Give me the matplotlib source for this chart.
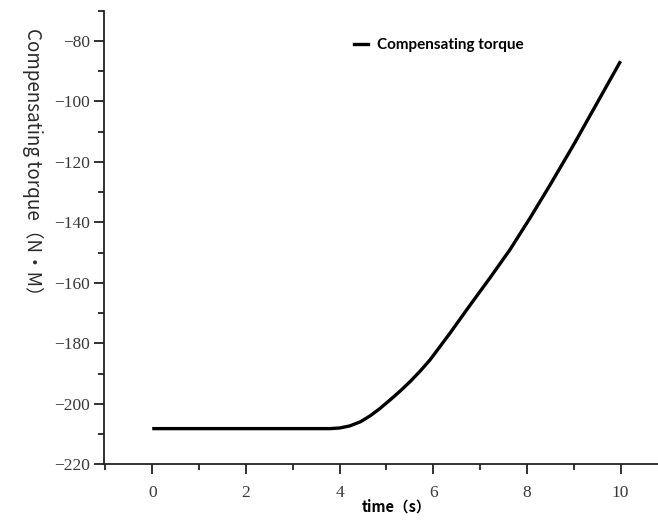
import matplotlib
matplotlib.use("Agg")
import matplotlib.pyplot as plt
from matplotlib.ticker import MultipleLocator
from matplotlib.lines import Line2D

time_s = [0, 1, 2, 3, 3.8, 4.0, 4.22, 4.45, 4.65, 4.85, 5.08, 5.3, 5.51, 5.72, 5.93,
          6.36, 6.79, 7.21, 7.64, 8.07, 8.5, 9.0, 9.5, 10.0]
torque = [-208.2, -208.2, -208.2, -208.2, -208.2, -208.0, -207.3, -205.9, -204.0,
          -201.7, -198.7, -195.7, -192.6, -189.2, -185.5, -176.6, -167.3, -158.4,
          -149.0, -138.5, -127.5, -114.3, -100.5, -86.7]

x_ticks = [0, 2, 4, 6, 8, 10]
y_ticks = [-220, -200, -180, -160, -140, -120, -100, -80]
legend_label = "Compensating torque"
x_label = "time（s）"
y_label = "Compensating torque（N·M）"

plt.rcParams["font.family"] = ["Liberation Serif", "DejaVu Sans"]

fig = plt.figure(figsize=(6.58, 5.25), dpi=100)
ax = fig.add_axes([104/658, 1 - 464.3/525, 1 - 104/658, (464.3 - 10.7)/525])

ax.plot(time_s, torque, color="black", lw=2.4, solid_capstyle="butt",
        solid_joinstyle="round")

ax.set_xlim(-1.03, 10.8)
ax.set_ylim(-220, -70)
ax.set_xticks(x_ticks)
ax.set_yticks(y_ticks)
ax.xaxis.set_minor_locator(MultipleLocator(1))
ax.yaxis.set_minor_locator(MultipleLocator(10))
ax.spines["top"].set_visible(False)
ax.spines["right"].set_visible(False)
for s in ("left", "bottom"):
    ax.spines[s].set_linewidth(1.3)
    ax.spines[s].set_color("#222222")
ax.tick_params(which="major", direction="out", length=7, width=1.3, colors="#222222",
               labelsize=12.5, labelcolor="#3a3a3a")
ax.tick_params(which="minor", direction="out", length=4, width=1.3, colors="#222222")
ax.tick_params(axis="x", pad=8)
ax.tick_params(axis="y", pad=3)

ax.set_xlabel(x_label, fontsize=10.5, fontweight="bold",
              family=["Noto Sans CJK SC", "DejaVu Sans"])
ax.xaxis.set_label_coords((397 - 104) / 554, -0.075)
ax.set_ylabel(y_label, fontsize=13.5, rotation=270,
              family=["Noto Sans CJK SC", "DejaVu Sans"], color="#2a2a2a")
ax.yaxis.set_label_coords(-(104 - 22) / 554, (464.3 - 166) / 453.6)

handle = Line2D([], [], color="black", lw=2.4)
ax.legend([handle], [legend_label], loc="center left",
          bbox_to_anchor=((340 - 104) / 554, (464.3 - 45) / 453.6),
          frameon=False, handlelength=0.95, handletextpad=0.55,
          prop={"family": "Lato", "weight": "bold", "size": 11})

fig.savefig("out.png", dpi=100)
